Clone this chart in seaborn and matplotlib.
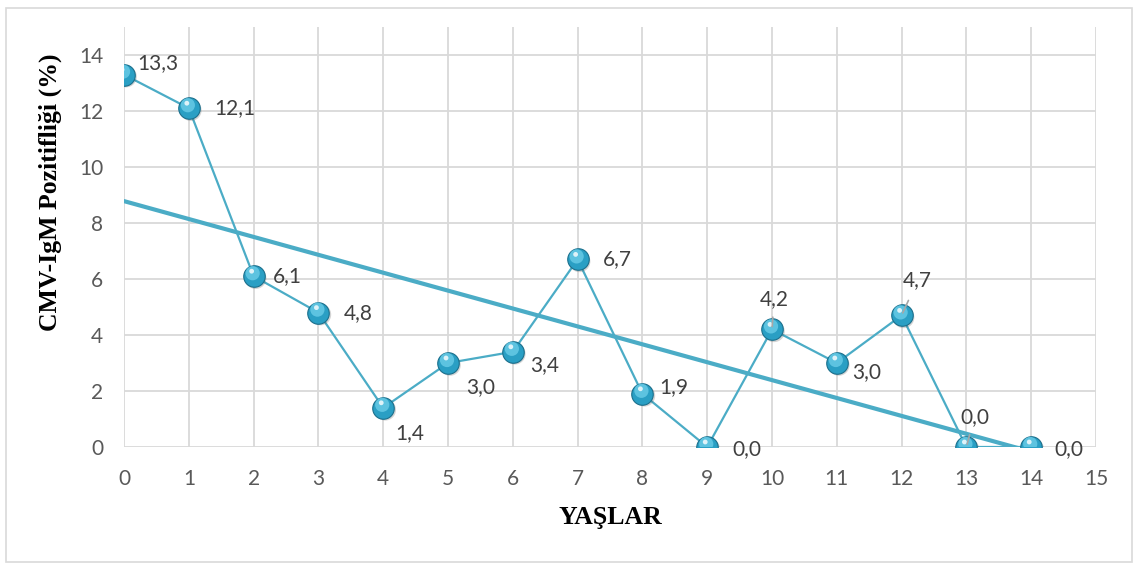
import matplotlib.pyplot as plt
import matplotlib.transforms as mtransforms
import numpy as np
import pandas as pd
import seaborn as sns
from matplotlib.patches import Rectangle

# ---------------------------------------------------------
# Data
# ---------------------------------------------------------
ages = [0, 1, 2, 3, 4, 5, 6, 7, 8, 9, 10, 11, 12, 13, 14]
positivity = [13.3, 12.1, 6.1, 4.8, 1.4, 3.0, 3.4, 6.7, 1.9, 0.0, 4.2, 3.0, 4.7, 0.0, 0.0]
x_ticks = list(range(0, 16))
y_ticks = [0, 2, 4, 6, 8, 10, 12, 14]

# label offsets in pixels (dx, dy) relative to each point
label_offsets = [(34, 12), (46, 0), (34, 0), (40, 0), (27, -25), (33, -24), (32, -13),
                 (40, 0), (31, 7), (40, -2), (2, 30), (30, -9), (16, 35), (8, 30), (38, -2)]
leader_lines = [10, 12, 13]

df = pd.DataFrame({"age": ages, "pct": positivity})

LINE = "#4BACC6"
BALL = "#2A9FC4"

sns.set_theme(style="white")
plt.rcParams["font.family"] = ["Lato", "DejaVu Sans"]

fig = plt.figure(figsize=(11.4, 5.7), dpi=100)
ax = fig.add_axes([0.1088, 0.2158, 0.8526, 0.7368])

# trendline (linear fit)
sns.regplot(data=df, x="age", y="pct", scatter=False, ci=None, ax=ax,
            line_kws={"color": LINE, "lw": 3, "zorder": 3})

sns.lineplot(data=df, x="age", y="pct", color=LINE, lw=1.6, ax=ax, zorder=4)

# sphere-like markers: shadow, body, highlight, glint
shadow = mtransforms.offset_copy(ax.transData, fig=fig, x=2, y=-2, units="dots")
ax.scatter(df["age"], df["pct"], s=240, color="#555555", alpha=0.25, edgecolor="none",
           transform=shadow, zorder=5)
sns.scatterplot(data=df, x="age", y="pct", s=240, color=BALL, edgecolor="#1B6F8C",
                linewidth=0.8, ax=ax, zorder=6, legend=False)
hl = mtransforms.offset_copy(ax.transData, fig=fig, x=-1, y=3, units="dots")
ax.scatter(df["age"], df["pct"], s=105, color="#6ACDE8", alpha=0.8, edgecolor="none",
           transform=hl, zorder=7)
hl2 = mtransforms.offset_copy(ax.transData, fig=fig, x=-2, y=5, units="dots")
ax.scatter(df["age"], df["pct"], s=12, color="white", alpha=0.8, edgecolor="none",
           transform=hl2, zorder=8)

for i, (x, y) in enumerate(zip(ages, positivity)):
    dx, dy = label_offsets[i]
    ax.annotate(f"{y:.1f}".replace(".", ","), (x, y), xytext=(dx, dy),
                textcoords="offset pixels", ha="center", va="center",
                fontsize=15, color="#404040", zorder=9)
    if i in leader_lines:
        ax.annotate("", (x, y), xytext=(dx * 0.5, dy * 0.5), textcoords="offset pixels",
                    arrowprops=dict(arrowstyle="-", color="#A6A6A6", lw=1.2), zorder=9)

ax.set_xlim(0, 15)
ax.set_ylim(0, 15)
ax.set_xticks(x_ticks)
ax.set_yticks(y_ticks)
ax.grid(True, color="#D9D9D9", lw=1.3)
for s in ax.spines.values():
    s.set_visible(False)
ax.tick_params(axis="both", length=0, labelsize=15, labelcolor="#595959")
ax.tick_params(axis="x", pad=16)
ax.tick_params(axis="y", pad=15)

ax.set_xlabel("YAŞLAR", fontsize=18.5, fontweight="bold", family="Liberation Serif",
              color="black", va="center")
ax.xaxis.set_label_coords(0.5, -0.167)
ax.set_ylabel("CMV-IgM Pozitifliği (%)", fontsize=18.5, fontweight="bold",
              family="Liberation Serif", color="black", va="center")
ax.yaxis.set_label_coords((50 - 124) / 972, (447 - 192) / 420)

fig.patches.append(Rectangle((6 / 1140, 8 / 570), 1126 / 1140, 554 / 570,
                             transform=fig.transFigure, fill=False,
                             edgecolor="#D9D9D9", lw=1.2))

fig.savefig("out.png", dpi=100)
